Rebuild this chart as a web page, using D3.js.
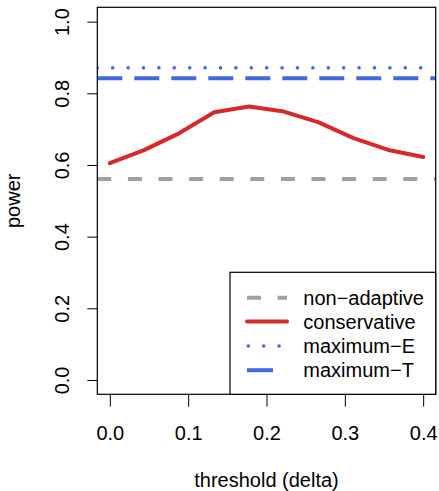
<!DOCTYPE html>
<html><head><meta charset="utf-8">
<script src="https://cdn.jsdelivr.net/npm/d3@7"></script>
<style>
body{margin:0;background:#fff;}
text{font-family:"Liberation Sans",Arial,Helvetica,sans-serif;fill:#000;}
</style></head>
<body><svg id="c" width="439" height="491"></svg>
<script>
// ---- data ----
const thresholds = [0, 0.4/9, 0.8/9, 1.2/9, 1.6/9, 2.0/9, 2.4/9, 2.8/9, 3.2/9, 0.4];
const conservative = [0.605, 0.642, 0.689, 0.747, 0.763, 0.749, 0.719, 0.675, 0.642, 0.622];
const nonAdaptive = 0.561;
const maximumE = 0.871;
const maximumT = 0.842;
const xTicks = [0, 0.1, 0.2, 0.3, 0.4];
const yTicks = [0, 0.2, 0.4, 0.6, 0.8, 1.0];
const legendLabels = ["non\u2212adaptive", "conservative", "maximum\u2212E", "maximum\u2212T"];

// ---- layout ----
const L = 97.3, R = 435.7, T = 7.3, B = 394.3;
const FS = 20;
const svg = d3.select("#c");
const x = d3.scaleLinear().domain([-0.016, 0.416]).range([L, R]);
const y = d3.scaleLinear().domain([-0.04, 1.04]).range([B, T]);

svg.append("defs").append("clipPath").attr("id","clip")
  .append("rect").attr("x",L).attr("y",T).attr("width",R-L).attr("height",B-T);

const styles = {
  na:  {color:"#a0a0a0", width:4, dash:"14,16.6", cap:"butt"},
  con: {color:"#d42a2a", width:4, dash:null, cap:"round"},
  mE:  {color:"#4169e1", width:3.6, dash:"0,15.4", cap:"round"},
  mT:  {color:"#4169e1", width:4, dash:"25,12", cap:"butt"}
};

const g = svg.append("g").attr("clip-path","url(#clip)");
function hline(v, s){
  g.append("line").attr("x1",L).attr("x2",R).attr("y1",y(v)).attr("y2",y(v))
    .attr("stroke",s.color).attr("stroke-width",s.width)
    .attr("stroke-dasharray",s.dash).attr("stroke-linecap",s.cap);
}
hline(nonAdaptive, styles.na);
hline(maximumE, styles.mE);
hline(maximumT, styles.mT);

g.append("path").datum(thresholds.map((t,i)=>[t,conservative[i]]))
  .attr("d", d3.line().x(d=>x(d[0])).y(d=>y(d[1])))
  .attr("fill","none").attr("stroke",styles.con.color).attr("stroke-width",styles.con.width)
  .attr("stroke-linejoin","round").attr("stroke-linecap","round");

// axes
const xa = svg.append("g").attr("transform",`translate(0,${B})`)
  .call(d3.axisBottom(x).tickValues(xTicks).tickFormat(d3.format(".1f")).tickSize(12.4).tickSizeOuter(0));
xa.select(".domain").remove();
xa.selectAll("line").attr("stroke","#000").attr("stroke-width",1);
xa.selectAll("text").attr("y",45.4).attr("dy",null).attr("font-size",FS)
  .attr("font-family","Liberation Sans, Arial, sans-serif");

const ya = svg.append("g").attr("transform",`translate(${L},0)`)
  .call(d3.axisLeft(y).tickValues(yTicks).tickFormat(d3.format(".1f")).tickSize(10).tickSizeOuter(0));
ya.select(".domain").remove();
ya.selectAll("line").attr("stroke","#000").attr("stroke-width",1);
ya.selectAll("text").attr("x",null).attr("dy",null).attr("y",null)
  .attr("transform","translate(-28.6,0) rotate(-90)").attr("text-anchor","middle")
  .attr("font-size",FS).attr("font-family","Liberation Sans, Arial, sans-serif");

// box
svg.append("rect").attr("x",L).attr("y",T).attr("width",R-L).attr("height",B-T)
  .attr("fill","none").attr("stroke","#000").attr("stroke-width",1.2);

// titles
svg.append("text").attr("x",(L+R)/2).attr("y",487).attr("text-anchor","middle")
  .attr("font-size",FS).text("threshold (delta)");
svg.append("text").attr("transform",`translate(19.5,${(T+B)/2}) rotate(-90)`)
  .attr("text-anchor","middle").attr("font-size",FS).text("power");

// legend
const lg = svg.append("g");
lg.append("rect").attr("x",230).attr("y",272.3).attr("width",R-230).attr("height",B-272.3)
  .attr("fill","#fff").attr("stroke","#000").attr("stroke-width",1.2);
const legStyles = [styles.na, styles.con, styles.mE, Object.assign({}, styles.mT, {dash:"26,20"})];
const rowY = [297.7, 321.5, 346, 370.2];
legendLabels.forEach((lab,i)=>{
  const s = legStyles[i];
  lg.append("line").attr("x1",i===2?248.3:247).attr("x2",287).attr("y1",rowY[i]).attr("y2",rowY[i])
    .attr("stroke",s.color).attr("stroke-width",s.width)
    .attr("stroke-dasharray",s.dash).attr("stroke-linecap",s.cap);
  lg.append("text").attr("x",303.3).attr("y",rowY[i]+7).attr("font-size",FS).text(lab);
});
</script></body></html>
